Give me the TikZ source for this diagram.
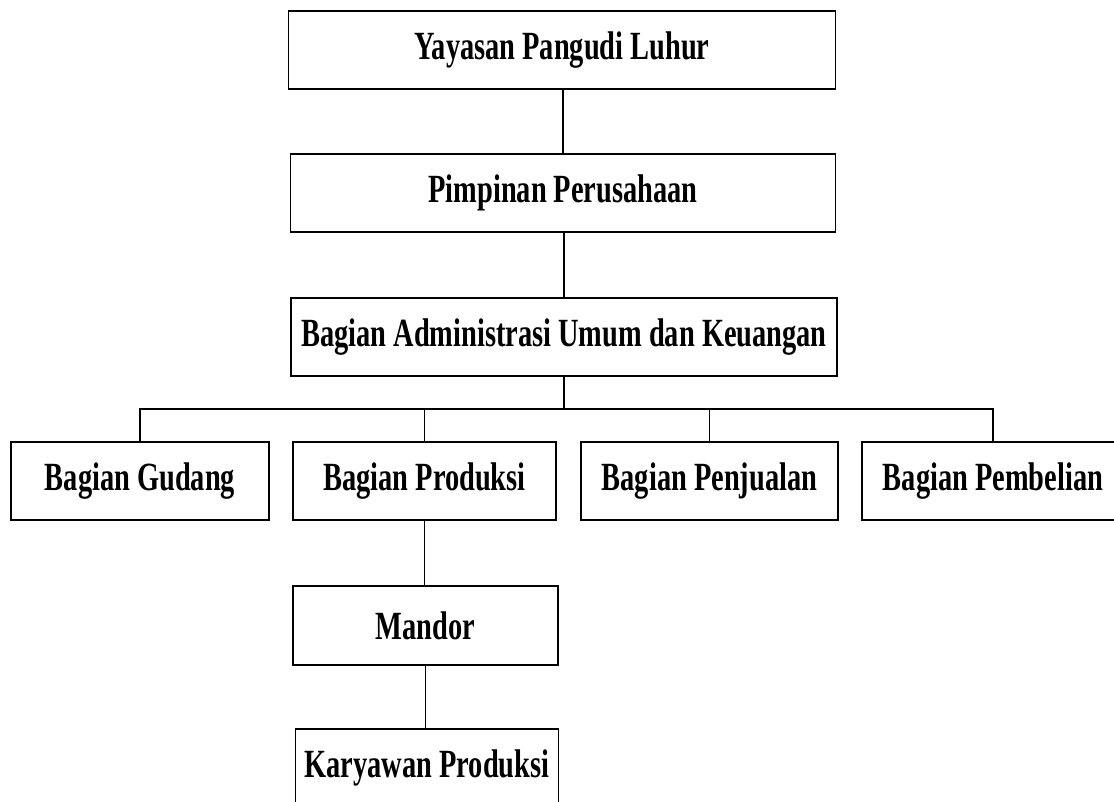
\documentclass[tikz,border=0pt]{standalone}
\usepackage{fontspec}
\newfontfamily\boxfont[FakeStretch=0.71]{Liberation Serif}
\begin{document}
\begin{tikzpicture}[x=1pt,y=-1pt,
  orgbox/.style={draw=black, line width=1.6pt, fill=white, inner sep=0pt,
    minimum height=78pt, font=\boxfont\bfseries\fontsize{40}{42}\selectfont},
  link/.style={draw=black, line width=1.1pt}]
\clip (0,0) rectangle (1114,802);
\fill[white] (0,0) rectangle (1114,802);

\node[orgbox, minimum width=547pt] (yay) at (562,50) {Yayasan Pangudi Luhur};
\node[orgbox, minimum width=545pt] (pim) at (563,193) {Pimpinan Perusahaan};
\node[orgbox, minimum width=546pt] (adm) at (564,337) {Bagian Administrasi Umum dan Keuangan};

\node[orgbox, minimum width=258pt] (gud) at (140,481) {Bagian Gudang};
\node[orgbox, minimum width=263pt] (pro) at (424.5,481) {Bagian Produksi};
\node[orgbox, minimum width=257pt] (pen) at (709.5,481) {Bagian Penjualan};
\node[orgbox, minimum width=262pt] (pem) at (993,481) {Bagian Pembelian};

\node[orgbox, minimum width=265pt, minimum height=79pt] (man) at (425.5,625.5) {Mandor};
\node[orgbox, minimum width=263pt] (kar) at (427,768) {Karyawan Produksi};

\coordinate (jy) at (0,409);

\draw[link] (pim.north |- yay.south) -- (pim.north);
\draw[link] (adm.north |- pim.south) -- (adm.north);
\draw[link] (adm.south) -- (adm.south |- jy);
\draw[link] (gud.north) -- (gud.north |- jy) -- (pem.north |- jy) -- (pem.north);
\draw[link] (pro.north |- jy) -- (pro.north);
\draw[link] (pen.north |- jy) -- (pen.north);
\draw[link] (pro.south) -- (pro.south |- man.north);
\draw[link] (man.south) -- (man.south |- kar.north);
\end{tikzpicture}
\end{document}
